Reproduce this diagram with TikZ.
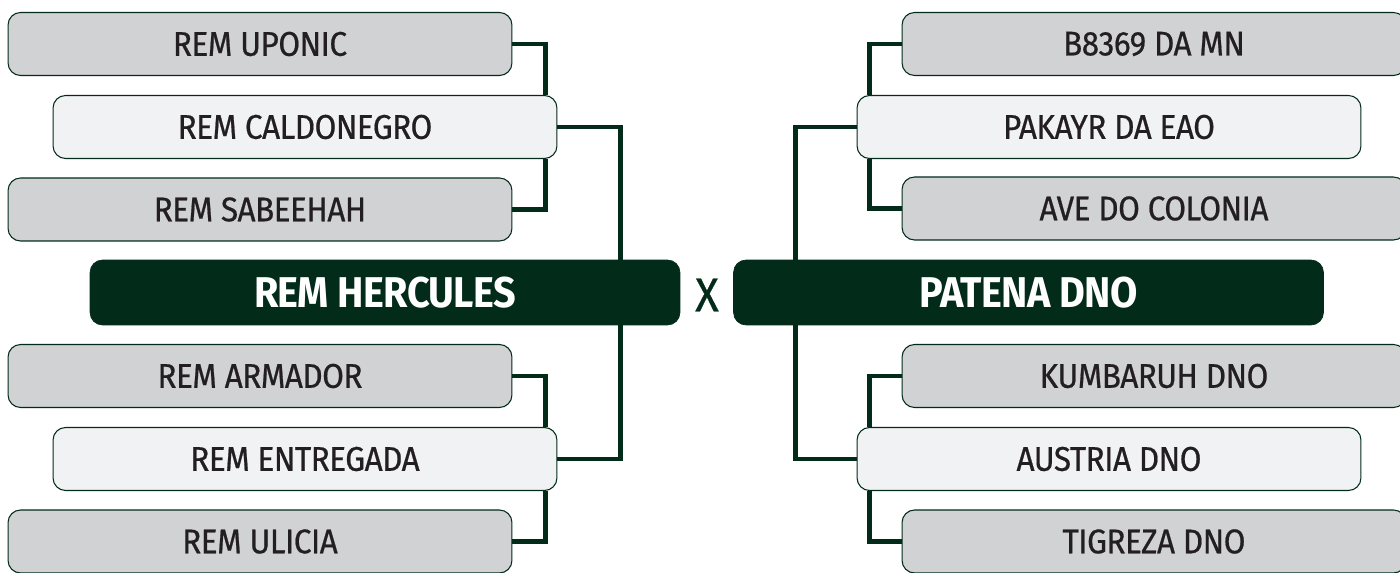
\documentclass[tikz,border=0pt]{standalone}
\usepackage{fontspec}
\setmainfont{Fira Sans}[FakeStretch=0.92, LetterSpace=-1.5]
\newfontfamily\slotfont{Fira Sans}[FakeStretch=0.92, LetterSpace=-1.5, FakeBold=0.6]
\usepackage{xcolor}
\usetikzlibrary{positioning,backgrounds}
\definecolor{bracketgreen}{RGB}{3,43,26}
\definecolor{slotgray}{RGB}{209,210,212}
\definecolor{slotlight}{RGB}{241,242,244}
\definecolor{slottext}{RGB}{35,31,32}

\tikzset{
    slot/.style={draw=bracketgreen, line width=0.6pt, rounded corners=0.25cm, minimum width=10.08cm, minimum height=1.26cm, text=slottext, font=\slotfont\fontsize{19.5}{21}\selectfont, inner sep=0pt},
    graybox/.style={slot, fill=slotgray},
    lightbox/.style={slot, fill=slotlight},
    finalbox/.style={draw=bracketgreen, fill=bracketgreen, rounded corners=0.25cm, minimum width=11.8cm, minimum height=1.3cm, text=white, font=\bfseries\fontsize{24.5}{26}\selectfont, inner sep=0pt},
    link/.style={draw=bracketgreen, line width=2.8pt}
}

\begin{document}
\begin{tikzpicture}[x=0.02cm, y=-0.02cm]
    \useasboundingbox (0,0) rectangle (1400,573);
    \clip (0,0) rectangle (1400,573);

    % left half
    \node[graybox] (uponic) at (260,44) {REM UPONIC};
    \node[lightbox] (caldonegro) at (305,127) {REM CALDONEGRO};
    \node[graybox] (sabeehah) at (260,209.5) {REM SABEEHAH};
    \node[finalbox] (hercules) at (385,292.5) {REM HERCULES};
    \node[graybox] (armador) at (260,376) {REM ARMADOR};
    \node[lightbox] (entregada) at (305,459) {REM ENTREGADA};
    \node[graybox] (ulicia) at (260,541.5) {REM ULICIA};

    % right half
    \node[graybox] (b8369) at (1154,44) {B8369 DA MN};
    \node[lightbox] (pakayr) at (1109,127) {PAKAYR DA EAO};
    \node[graybox] (colonia) at (1154,208.5) {AVE DO COLONIA};
    \node[finalbox] (patena) at (1028.5,292.5) {PATENA DNO};
    \node[graybox] (kumbaruh) at (1154,376) {KUMBARUH DNO};
    \node[lightbox] (austria) at (1109,459) {AUSTRIA DNO};
    \node[graybox] (tigreza) at (1154,541.5) {TIGREZA DNO};

    \node[text=bracketgreen, font=\slotfont\fontsize{27}{29}\selectfont, inner sep=0pt] (versus) at (707,295) {X};

    \begin{scope}[on background layer]
        \draw[link] (uponic.east) -| ([xshift=-0.24cm]caldonegro.north east);
        \draw[link] (sabeehah.east) -| ([xshift=-0.24cm]caldonegro.south east);
        \draw[link] (caldonegro.east) -| ([xshift=-1.2cm]hercules.north east);
        \draw[link] (armador.east) -| ([xshift=-0.24cm]entregada.north east);
        \draw[link] (ulicia.east) -| ([xshift=-0.24cm]entregada.south east);
        \draw[link] (entregada.east) -| ([xshift=-1.2cm]hercules.south east);

        \draw[link] (b8369.west) -| ([xshift=0.26cm]pakayr.north west);
        \draw[link] (colonia.west) -| ([xshift=0.26cm]pakayr.south west);
        \draw[link] (pakayr.west) -| ([xshift=1.24cm]patena.north west);
        \draw[link] (kumbaruh.west) -| ([xshift=0.26cm]austria.north west);
        \draw[link] (tigreza.west) -| ([xshift=0.26cm]austria.south west);
        \draw[link] (austria.west) -| ([xshift=1.24cm]patena.south west);
    \end{scope}
\end{tikzpicture}
\end{document}
